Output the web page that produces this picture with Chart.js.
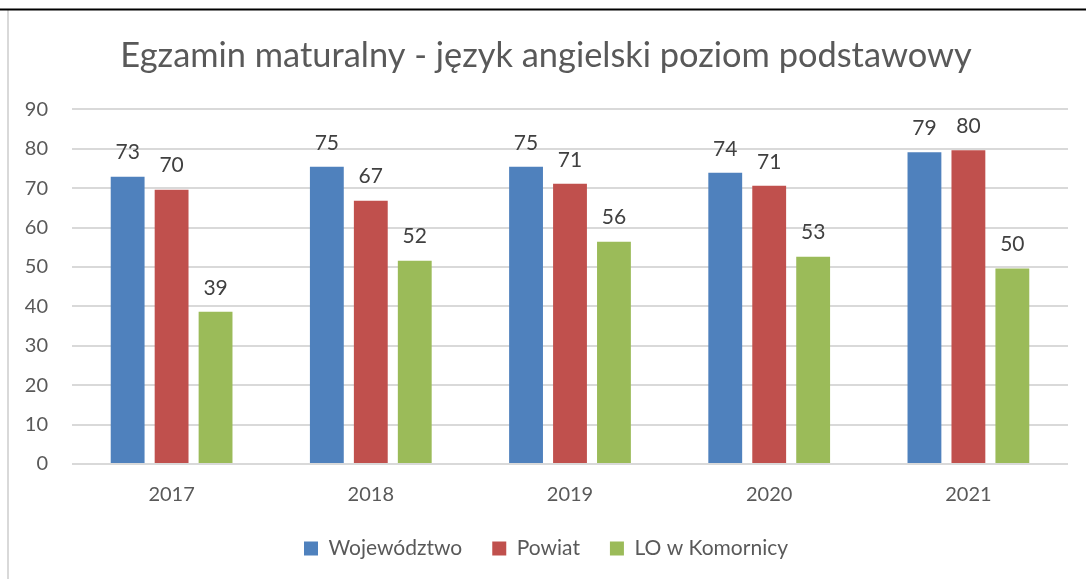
<!DOCTYPE html>
<html>
<head>
<meta charset="utf-8">
<script src="https://cdn.jsdelivr.net/npm/chart.js@4/dist/chart.umd.min.js"></script>
<style>
  html, body { margin: 0; padding: 0; background: #fff; }
  #wrap { width: 1086px; height: 579px; }
</style>
</head>
<body>
<div id="wrap"><canvas id="chartMatura" width="1086" height="579"></canvas></div>
<script>
// dane z wykresu
const lata = ['2017', '2018', '2019', '2020', '2021'];
const wojewodztwo = [72.9, 75.4, 75.4, 73.9, 79.1];
const powiat = [69.6, 66.8, 71.1, 70.6, 79.6];
const loKomornica = [38.6, 51.6, 56.4, 52.6, 49.6];
const osY = [0, 10, 20, 30, 40, 50, 60, 70, 80, 90];

const fontFam = "Lato, 'Open Sans', sans-serif";
const szary = '#595959';

// etykiety nad slupkami
const etykiety = {
  id: 'etykiety',
  afterDatasetsDraw(chart) {
    const ctx = chart.ctx;
    ctx.save();
    ctx.font = '21px ' + fontFam;
    ctx.fillStyle = '#404040';
    ctx.textAlign = 'center';
    ctx.textBaseline = 'middle';
    chart.data.datasets.forEach((ds, i) => {
      chart.getDatasetMeta(i).data.forEach((bar, j) => {
        ctx.fillText(Math.round(ds.data[j]), bar.x, bar.y - 24);
      });
    });
    ctx.restore();
  }
};

// ramka dookola
const ramka = {
  id: 'ramka',
  beforeDraw(chart) {
    const ctx = chart.ctx;
    ctx.save();
    ctx.fillStyle = '#fff';
    ctx.fillRect(0, 0, chart.width, chart.height);
    ctx.strokeStyle = '#d9d9d9';
    ctx.lineWidth = 2;
    ctx.beginPath();
    ctx.moveTo(8, 10);
    ctx.lineTo(8, chart.height);
    ctx.stroke();
    ctx.strokeStyle = '#000';
    ctx.beginPath();
    ctx.moveTo(0, 9.5);
    ctx.lineTo(chart.width, 9.5);
    ctx.stroke();
    ctx.restore();
  }
};

const chartMatura = document.getElementById('chartMatura');

new Chart(chartMatura, {
  type: 'bar',
  data: {
    labels: lata,
    datasets: [
      { label: 'Województwo', data: wojewodztwo, backgroundColor: '#4f81bd' },
      { label: 'Powiat', data: powiat, backgroundColor: '#c0504d' },
      { label: 'LO w Komornicy', data: loKomornica, backgroundColor: '#9bbb59' }
    ]
  },
  options: {
    responsive: false,
    animation: false,
    events: [],
    datasets: {
      bar: { categoryPercentage: 0.662, barPercentage: 0.77 }
    },
    layout: { padding: { left: 24, right: 18, top: 18, bottom: 10 } },
    plugins: {
      title: {
        display: true,
        text: 'Egzamin maturalny - język angielski poziom podstawowy',
        color: szary,
        font: { family: fontFam, size: 34.4, weight: 'normal' },
        padding: { top: 17, bottom: 33 }
      },
      legend: {
        position: 'bottom',
        labels: {
          color: szary,
          font: { family: fontFam, size: 21 },
          boxWidth: 14,
          boxHeight: 14,
          padding: 30
        }
      },
      tooltip: { enabled: false }
    },
    scales: {
      y: {
        min: 0,
        max: 90,
        afterBuildTicks(axis) { axis.ticks = osY.map(v => ({ value: v })); },
        afterFit(axis) { axis.width = 48; },
        grid: { color: '#d9d9d9', lineWidth: 2, drawTicks: false },
        border: { display: false },
        ticks: { color: szary, font: { family: fontFam, size: 20 }, padding: 24 }
      },
      x: {
        afterFit(axis) { axis.height = axis.height - 10; },
        grid: { display: false },
        border: { display: false },
        ticks: { color: szary, font: { family: fontFam, size: 20 }, padding: 11 }
      }
    }
  },
  plugins: [ramka, etykiety]
});
</script>
</body>
</html>
